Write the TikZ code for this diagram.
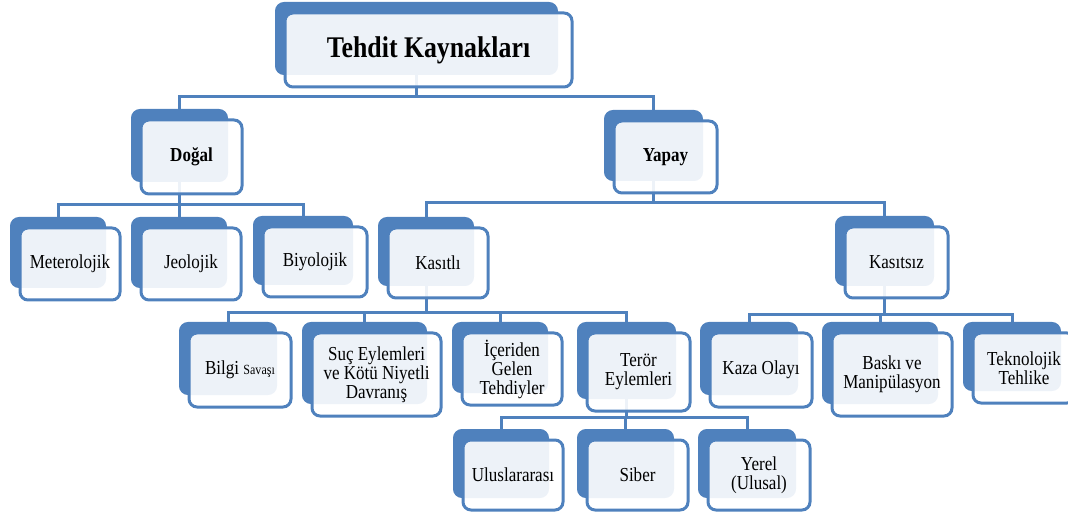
\documentclass[tikz,border=0pt]{standalone}
\usepackage{fontspec}
\setmainfont{Liberation Serif}[FakeStretch=0.86]
\usetikzlibrary{backgrounds}
\definecolor{tkblue}{HTML}{4F81BD}
\tikzset{
  backbox/.style={draw=tkblue, fill=tkblue, line width=2pt, rounded corners=8pt, inner sep=0pt},
  frontbox/.style={draw=tkblue, fill=white, fill opacity=0.9, text opacity=1, line width=3pt,
    rounded corners=8pt, inner sep=2pt, align=center, font=\fontsize{19.8}{19}\selectfont},
  conn/.style={draw=tkblue, line width=3pt},
  boldtxt/.style={font=\fontsize{19.8}{19}\selectfont\bfseries},
  titletxt/.style={font=\fontsize{30}{32}\selectfont\bfseries}
}
\newcommand{\tkbox}[7][]{%
  \node[backbox, minimum width=#5pt-6pt, minimum height=#6pt-3pt] (#2-b) at (#3-12,#4-11.5) {};
  \node[frontbox, minimum width=#5pt, minimum height=#6pt, #1] (#2) at (#3,#4) {#7};
}
\begin{document}
\begin{tikzpicture}[x=1pt,y=-1pt]
\useasboundingbox (0,0) rectangle (1068,518);
\clip (0,0) rectangle (1068,518);
% level 0
\tkbox[titletxt]{top}{428.5}{50}{287}{74}{Tehdit Kaynakları}
% level 1
\tkbox[boldtxt]{dogal}{191.5}{157}{101}{74}{Doğal}
\tkbox[boldtxt]{yapay}{665.5}{157}{103}{72}{Yapay}
% level 2
\tkbox{meteo}{70}{264}{100}{72}{Meterolojik}
\tkbox{jeo}{191}{264}{100}{72}{Jeolojik}
\tkbox{biyo}{315}{262}{104}{70}{Biyolojik}
\tkbox{kasitli}{438}{263}{100}{70}{Kasıtlı}
\tkbox{kasitsiz}{896.5}{262.5}{103}{71}{Kasıtsız}
% level 3
\tkbox{bilgi}{240}{370}{102}{74}{Bilgi {\fontsize{14}{15}\selectfont Savaşı}}
\tkbox{suc}{376.5}{374.5}{129}{83}{Suç Eylemleri\\ve Kötü Niyetli\\Davranış}
\tkbox{iceriden}{512}{369}{100}{72}{İçeriden\\Gelen\\Tehdiyler}
\tkbox{teror}{638.5}{372}{103}{78}{Terör\\Eylemleri}
\tkbox{kaza}{761}{370}{102}{74}{Kaza Olayı}
\tkbox{baski}{892}{374.5}{120}{83}{Baskı ve\\Manipülasyon}
\tkbox{tekno}{1024}{368}{102}{70}{Teknolojik\\Tehlike}
% level 4
\tkbox{ulus}{513}{475}{100}{70}{Uluslararası}
\tkbox{siber}{637.5}{475}{101}{70}{Siber}
\tkbox{yerel}{759}{475}{102}{70}{Yerel\\(Ulusal)}
% buses
\coordinate (bus1) at (0,97);
\coordinate (bus2a) at (0,205);
\coordinate (bus2b) at (0,203);
\coordinate (bus3a) at (0,313);
\coordinate (bus3b) at (0,315);
\coordinate (bus4) at (0,417);
\begin{scope}[on background layer]
\foreach \c in {dogal,yapay}
  \draw[conn] (top-b.south) -- (top-b.south |- bus1) -| (\c-b.north);
\foreach \c in {meteo,jeo,biyo}
  \draw[conn] (dogal-b.south) -- (dogal-b.south |- bus2a) -| (\c-b.north);
\foreach \c in {kasitli,kasitsiz}
  \draw[conn] (yapay-b.south) -- (yapay-b.south |- bus2b) -| (\c-b.north);
\foreach \c in {bilgi,suc,iceriden,teror}
  \draw[conn] (kasitli-b.south) -- (kasitli-b.south |- bus3a) -| (\c-b.north);
\foreach \c in {kaza,baski,tekno}
  \draw[conn] (kasitsiz-b.south) -- (kasitsiz-b.south |- bus3b) -| (\c-b.north);
\foreach \c in {ulus,siber,yerel}
  \draw[conn] (teror-b.south) -- (teror-b.south |- bus4) -| (\c-b.north);
\end{scope}
\end{tikzpicture}
\end{document}
